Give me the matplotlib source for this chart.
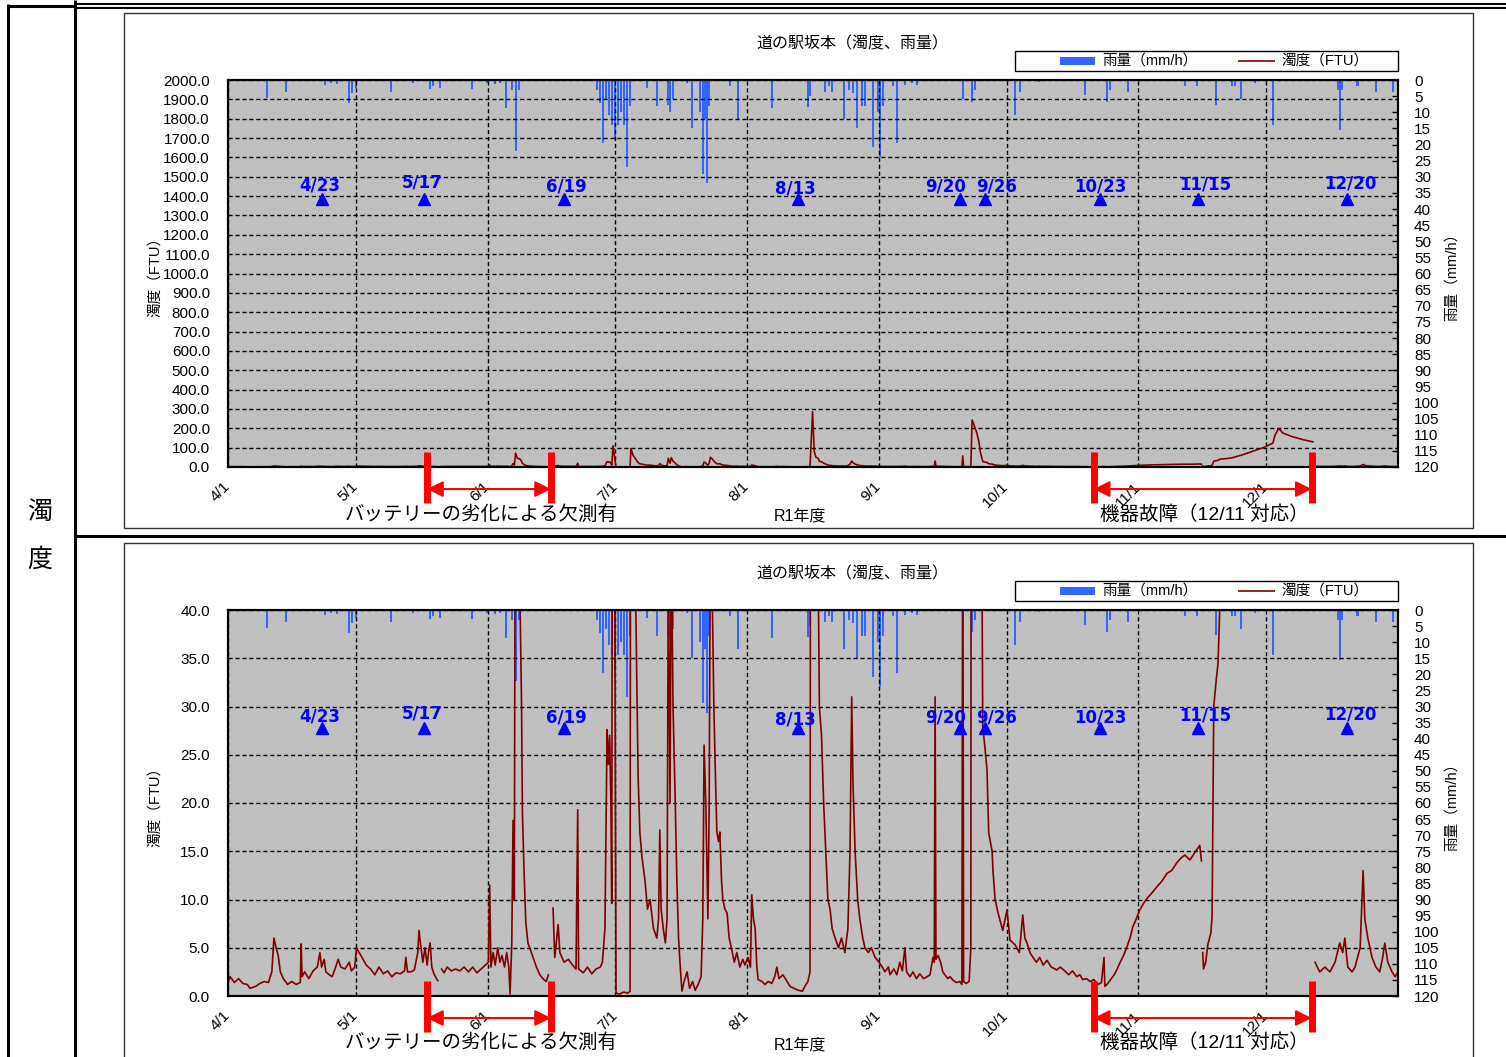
import numpy as np
import matplotlib
matplotlib.use("Agg")
import matplotlib.pyplot as plt
import matplotlib.transforms as mtransforms
from matplotlib.patches import Rectangle
from matplotlib.lines import Line2D

plt.rcParams['font.family'] = ['Liberation Sans', 'Noto Sans CJK JP']

# ---------------- data (day 0 = 4/1) ----------------
month_days = [0, 30, 61, 91, 122, 153, 183, 214, 244]
month_labels = ['4/1', '5/1', '6/1', '7/1', '8/1', '9/1', '10/1', '11/1', '12/1']

marker_days = [22, 46, 79, 134, 172, 178, 205, 228, 263]
marker_labels = ['4/23', '5/17', '6/19', '8/13', '9/20', '9/26', '10/23', '11/15', '12/20']

nan = float('nan')
turb_day = [
    0.0, 0.5, 1.5, 2.5, 3.5, 4.5, 5.2, 6.5, 7.5, 8.5,
    9.5, 10.3, 10.8, 11.3, 11.8, 12.3, 13.0, 14.0, 15.0, 16.0,
    17.0, 17.2, 17.4, 18.0, 19.0, 20.0, 21.0, 21.6, 22.0, 22.6,
    23.0, 23.8, 24.5, 25.3, 25.9, 26.5, 27.5, 28.5, 29.0, 29.8,
    30.2, 30.7, 31.5, 32.5, 33.5, 34.5, 35.5, 36.5, 37.5, 38.5,
    39.5, 40.5, 41.5, 41.8, 42.2, 43.0, 43.8, 44.6, 44.9, 45.3,
    45.8, 46.3, 46.8, 47.2, 47.5, 47.9, 48.4, 49.0, 49.3, 49.6,
    50.2, 50.8, 51.5, 52.5, 53.5, 54.5, 55.5, 56.5, 57.5, 58.5,
    59.5, 60.5, 61.2, 61.5, 61.8, 62.3, 62.8, 63.4, 63.9, 64.4,
    65.0, 65.5, 66.0, 66.3, 66.7, 67.0, 67.3, 67.6, 68.0, 68.6,
    69.0, 69.2, 69.6, 70.0, 70.5, 71.7, 72.5, 73.3, 74.0, 74.8,
    75.3, 75.6, 76.4, 76.8, 77.6, 78.0, 79.0, 80.0, 81.0, 81.8,
    82.2, 82.4, 83.5, 84.5, 85.5, 86.5, 87.5, 88.0, 88.6, 88.9,
    89.1, 89.4, 89.7, 90.0, 90.2, 90.5, 90.8, 91.2, 92.0, 93.0,
    94.0, 94.5, 94.7, 95.2, 95.7, 96.4, 96.8, 97.3, 98.0, 98.6,
    99.2, 100.0, 100.8, 101.2, 101.5, 101.8, 102.3, 102.8, 103.2, 103.5,
    103.9, 104.2, 104.6, 105.1, 105.5, 105.9, 106.3, 106.7, 107.2, 107.9,
    108.5, 109.2, 109.8, 110.5, 111.2, 111.6, 111.9, 112.3, 112.6, 112.8,
    113.1, 113.4, 113.8, 114.2, 114.5, 114.9, 115.3, 115.6, 116.0, 116.3,
    116.8, 117.3, 117.8, 118.3, 119.0, 119.6, 120.3, 121.0, 121.5, 122.2,
    122.8, 123.1, 123.5, 123.9, 124.3, 124.6, 125.5, 126.2, 127.0, 127.8,
    128.5, 129.0, 129.5, 130.4, 131.0, 132.1, 133.0, 134.0, 135.0, 135.6,
    136.3, 136.8, 137.4, 137.8, 138.2, 138.7, 139.0, 139.5, 140.0, 140.5,
    141.0, 141.5, 142.0, 142.7, 143.5, 144.2, 145.0, 145.7, 146.2, 146.6,
    146.9, 147.4, 148.0, 148.5, 149.2, 149.7, 150.5, 151.2, 152.1, 153.0,
    153.8, 154.4, 155.2, 155.6, 156.5, 157.2, 157.9, 158.5, 159.1, 159.5,
    160.3, 161.0, 161.8, 162.6, 163.5, 164.3, 165.0, 165.7, 166.0, 166.2,
    166.4, 166.9, 167.5, 168.0, 168.5, 169.2, 169.7, 170.5, 171.2, 172.0,
    172.5, 172.7, 172.9, 173.5, 174.2, 174.6, 174.9, 175.3, 175.6, 176.0,
    176.5, 176.8, 177.2, 177.4, 177.9, 178.4, 178.8, 179.6, 179.8, 180.3,
    181.0, 182.1, 183.1, 183.8, 185.0, 186.0, 186.8, 187.3, 187.8, 188.5,
    189.2, 190.0, 190.8, 191.6, 192.5, 193.5, 194.8, 195.6, 196.7, 197.6,
    198.5, 199.5, 200.2, 200.9, 201.8, 202.6, 203.5, 204.5, 205.3, 205.9,
    206.1, 206.6, 207.3, 208.3, 209.0, 209.6, 210.5, 211.3, 212.0, 212.7,
    213.5, 214.3, 215.2, 216.0, 217.2, 218.3, 219.5, 220.7, 221.8, 223.0,
    224.0, 224.9, 226.1, 227.3, 228.4, 228.8, 228.95, 229.1, 229.3, 229.8,
    230.3, 231.0, 231.3, 231.5, 231.7, 232.2, 232.7, 233.1, 235.7, 238.3,
    241.1, 243.7, 245.6, 246.1, 247.0, 247.9, 250.1, 252.9, 255.0, 255.1,
    255.5, 256.6, 257.8, 259.0, 260.2, 261.3, 262.0, 262.5, 263.2, 264.2,
    264.9, 266.1, 266.8, 267.2, 267.9, 268.9, 269.8, 270.7, 271.4, 271.9,
    272.6, 273.6, 274.3, 275.0,
]
turb_ftu = [
    1.5, 2.0, 1.4, 1.8, 1.3, 1.2, 0.8, 1.0, 1.3, 1.5,
    1.4, 2.5, 6.0, 5.0, 4.2, 2.5, 1.8, 1.2, 1.5, 1.2,
    1.4, 5.4, 2.0, 2.5, 1.8, 2.6, 3.0, 4.5, 3.0, 3.8,
    2.5, 2.2, 2.0, 3.0, 3.8, 3.0, 2.8, 3.5, 2.6, 3.0,
    5.0, 4.6, 4.0, 3.2, 2.8, 2.2, 3.0, 2.3, 2.6, 2.0,
    2.4, 2.3, 2.6, 4.0, 2.5, 2.5, 2.7, 4.5, 6.8, 5.2,
    3.5, 5.0, 3.2, 4.8, 5.5, 3.0, 2.3, 1.8, 1.6, nan,
    2.8, 2.4, 3.0, 2.6, 2.8, 2.6, 3.0, 2.5, 3.0, 2.4,
    2.8, 3.2, 3.5, 11.5, 3.0, 4.5, 3.2, 5.0, 3.5, 4.2,
    3.0, 4.5, 3.0, 0.2, 5.5, 18.2, 10.0, 72.0, 45.0, 42.0,
    30.0, 19.0, 12.7, 7.6, 5.5, 4.0, 3.0, 2.2, 1.8, 1.5,
    2.2, nan, 9.1, 4.0, 7.4, 4.5, 3.5, 3.8, 3.2, 2.8,
    19.3, 2.8, 2.4, 3.0, 2.3, 2.8, 3.0, 3.5, 7.0, 20.0,
    27.6, 24.0, 27.0, 20.0, 9.6, 110.0, 60.0, 0.3, 0.2, 0.4,
    0.3, 0.5, 95.0, 60.0, 45.0, 22.7, 17.0, 14.4, 12.0, 9.0,
    10.0, 7.0, 6.0, 8.0, 17.2, 9.0, 7.0, 5.5, 8.0, 45.0,
    20.0, 48.0, 30.0, 20.6, 12.0, 6.0, 3.0, 0.5, 1.5, 2.5,
    0.8, 1.5, 0.6, 1.2, 2.0, 8.0, 26.0, 20.0, 13.0, 8.0,
    20.0, 50.0, 42.0, 30.0, 24.0, 17.0, 16.0, 17.0, 12.0, 10.0,
    9.0, 8.6, 6.0, 5.0, 3.5, 4.5, 3.0, 3.8, 3.2, 4.0,
    3.0, 10.5, 8.0, 7.0, 3.0, 1.7, 1.5, 1.2, 1.5, 1.3,
    2.0, 3.0, 1.8, 2.2, 1.8, 1.0, 0.8, 0.6, 0.5, 1.0,
    1.5, 2.5, 285.0, 80.0, 50.0, 45.0, 30.0, 27.0, 20.0, 15.0,
    10.0, 9.0, 7.0, 6.0, 5.0, 6.0, 4.5, 7.0, 15.0, 31.0,
    22.0, 15.0, 10.0, 8.0, 6.0, 5.0, 4.5, 5.0, 4.0, 3.5,
    3.0, 2.5, 3.0, 2.2, 2.8, 2.2, 3.5, 2.6, 5.0, 2.5,
    2.0, 2.5, 1.8, 2.3, 1.8, 2.0, 2.2, 4.0, 3.5, 31.0,
    3.8, 4.2, 3.5, 2.5, 2.2, 1.8, 2.0, 1.6, 1.4, 1.5,
    1.2, 57.0, 1.5, 1.3, 1.5, 5.0, 243.0, 220.0, 200.0, 176.0,
    130.0, 80.0, 45.0, 28.0, 25.8, 23.4, 16.9, 15.0, 13.0, 10.0,
    8.6, 6.8, 8.9, 5.8, 5.3, 4.5, 8.4, 6.0, 5.5, 4.5,
    4.0, 3.5, 4.0, 3.2, 3.7, 3.0, 2.7, 3.0, 2.6, 2.2,
    2.6, 2.0, 2.2, 1.7, 1.8, 1.5, 1.7, 1.2, 1.4, 4.0,
    1.0, 1.2, 1.6, 2.2, 2.8, 3.4, 4.2, 5.1, 6.0, 7.2,
    8.0, 8.9, 9.6, 10.1, 10.7, 11.3, 11.9, 12.7, 13.0, 13.8,
    14.3, 14.6, 14.1, 14.9, 15.6, 14.0, nan, 4.5, 2.8, 3.5,
    5.3, 6.5, 8.2, 19.6, 30.0, 32.4, 34.5, 40.0, 46.0, 62.0,
    83.0, 103.0, 124.0, 165.0, 200.0, 176.0, 157.0, 140.0, 130.0, nan,
    3.5, 2.5, 3.0, 2.5, 3.5, 5.5, 4.5, 6.0, 3.0, 2.5,
    3.0, 5.0, 13.0, 8.0, 6.0, 4.0, 3.0, 2.5, 4.0, 5.5,
    3.5, 2.5, 2.0, 2.5,
]

rain_day = [
    9.1, 13.6, 22.8, 24.2, 25.6, 28.4, 29.1, 30.1, 38.3, 43.5,
    47.5, 48.2, 49.8, 57.3, 60.9, 62.7, 63.9, 65.3, 66.7, 67.7,
    68.4, 86.7, 87.4, 88.1, 88.8, 89.5, 90.2, 90.9, 91.7, 92.4,
    93.1, 93.8, 94.5, 98.5, 100.8, 103.4, 103.9, 104.6, 107.9, 109.0,
    110.9, 111.6, 112.1, 112.6, 113.0, 118.0, 119.9, 127.8, 136.3, 136.8,
    140.3, 141.3, 142.0, 144.8, 145.9, 146.9, 147.8, 149.0, 149.7, 151.6,
    152.8, 153.2, 153.9, 156.3, 157.2, 159.1, 160.8, 161.9, 172.7, 174.9,
    175.6, 185.0, 186.1, 190.6, 201.4, 206.6, 207.3, 211.5, 224.9, 227.7,
    232.2, 236.0, 236.7, 238.1, 241.4, 245.6, 260.9, 261.3, 261.8, 265.5,
    269.8, 273.8,
]
rain_mm = [
    5.6, 3.7, 1.5, 1.0, 1.2, 7.0, 4.0, 2.5, 3.7, 1.0,
    2.8, 2.0, 2.5, 2.8, 0.8, 1.2, 1.0, 8.6, 3.0, 22.0,
    3.0, 3.0, 7.0, 19.5, 6.0, 11.0, 14.0, 18.6, 14.0, 10.0,
    14.0, 27.0, 8.0, 2.5, 8.0, 7.8, 10.0, 6.0, 1.0, 15.0,
    10.0, 29.0, 12.0, 32.0, 8.0, 2.0, 12.0, 8.7, 8.3, 5.0,
    3.7, 2.0, 3.7, 12.0, 3.0, 4.0, 15.0, 8.0, 8.0, 20.7,
    10.0, 24.0, 8.0, 2.0, 19.5, 1.5, 1.0, 1.5, 6.0, 6.7,
    3.0, 11.0, 3.8, 0.5, 4.7, 6.8, 3.0, 3.8, 2.0, 2.0,
    7.8, 2.0, 2.0, 6.0, 1.0, 14.0, 3.0, 15.5, 3.0, 2.0,
    3.8, 3.8,
]

missing_battery = [46.8, 75.9]      # バッテリー劣化による欠測
missing_device = [203.5, 254.7]     # 機器故障（12/11 対応）

# label nudges (pixels) for the survey-date labels, as placed in the reference
label_dx = [-2, -2, 2, -3, -14, 11, 0, 7, 3]
label_dy = [0, -3, 1, 3, 1, 1, 1, -1, -2]

# ---------------- figure ----------------
W, H = 1506, 1057
fig = plt.figure(figsize=(W / 100, H / 100), dpi=100)


def fx(px):
    return px / W


def fy(py):
    return 1 - py / H


def fig_line(xs, ys, lw, color='black'):
    fig.add_artist(Line2D([fx(x) for x in xs], [fy(y) for y in ys], color=color, lw=lw,
                          transform=fig.transFigure, solid_capstyle='butt'))


# table frame
fig_line([8, 8], [4, 1057], 2.2)
fig_line([75, 75], [0, 1057], 2.2)
fig_line([8, 75], [5.5, 5.5], 2.2)
fig_line([75, 1506], [3.5, 3.5], 1.5)
fig_line([75, 1506], [7.5, 7.5], 1.5)
fig_line([75, 1506], [536, 536], 2.2)
fig.text(fx(40), fy(512), '濁', fontsize=18, ha='center', va='center', family=['Noto Sans CJK JP'])
fig.text(fx(40), fy(560), '度', fontsize=18, ha='center', va='center', family=['Noto Sans CJK JP'])

RAIN_C = '#3366FF'
TURB_C = '#800000'


def panel(top, bot, box_top, box_bot, ymax, ystep, tri_val, lab_val):
    fig.add_artist(Rectangle((fx(124), fy(box_bot)), fx(1473) - fx(124), (box_bot - box_top) / H,
                             fill=False, edgecolor='#333333', lw=1, transform=fig.transFigure))
    ax = fig.add_axes([fx(228), fy(bot), fx(1398) - fx(228), (bot - top) / H])
    ax2 = ax.twinx()
    ax2.set_zorder(1)
    ax.set_zorder(2)
    ax.patch.set_visible(False)
    ax2.patch.set_visible(True)
    ax2.patch.set_facecolor('#C0C0C0')

    # rain
    ax2.bar(rain_day, rain_mm, width=0.55, color=RAIN_C, linewidth=0)
    ax2.set_ylim(120, 0)
    ax2.set_yticks(np.arange(0, 121, 5))
    ax2.set_yticklabels([str(v) for v in range(0, 121, 5)])
    ax2.tick_params(axis='y', direction='in', length=4, width=1, pad=11.5, labelsize=11)

    # turbidity
    ax.plot(turb_day, turb_ftu, color=TURB_C, lw=1.2)
    ax.set_xlim(0, 275)
    ax.set_ylim(0, ymax)
    yt = np.arange(0, ymax + ystep / 2, ystep)
    ax.set_yticks(yt)
    ax.set_yticklabels([f'{v:.1f}' for v in yt])
    ax.tick_params(axis='y', length=0, pad=13, labelsize=11)
    ax.set_xticks(month_days)
    ax.set_xticklabels(month_labels, rotation=45, ha='right', va='top', rotation_mode='anchor')
    ax.tick_params(axis='x', length=0, pad=9, labelsize=11)
    shift = mtransforms.ScaledTranslation(-5 / 100, 0, fig.dpi_scale_trans)
    for lab in ax.get_xticklabels():
        lab.set_transform(lab.get_transform() + shift)
    ax.set_axisbelow(True)
    ax.grid(True, color='black', linestyle=(0, (3, 2)), lw=1.0)
    for a in (ax, ax2):
        for s in a.spines.values():
            s.set_linewidth(1.5)
            s.set_color('black')

    # survey markers
    ax.plot(marker_days, [tri_val] * len(marker_days), '^', color='#0000FF', ms=8, clip_on=False)
    for d, lab, dx, dy in zip(marker_days, marker_labels, label_dx, label_dy):
        ax.annotate(lab, xy=(d, lab_val), xytext=(dx * 0.72, -dy * 0.72), textcoords='offset points',
                    color='#0000FF', fontweight='bold', family=['DejaVu Sans'],
                    fontsize=12, ha='center', va='center')

    # missing-period annotations
    trans = mtransforms.blended_transform_factory(ax.transData, ax.transAxes)
    for (d1, d2), txt, tx in ((missing_battery, 'バッテリーの劣化による欠測有', 59.6),
                              (missing_device, '機器故障（12/11 対応）', 229.6)):
        for d in (d1, d2):
            ax.plot([d, d], [0.04, -0.093], color='red', lw=5, transform=trans, clip_on=False,
                    solid_capstyle='butt', zorder=5)
        ax.annotate('', xy=(d2, -0.057), xycoords=trans, xytext=(d1, -0.057), textcoords=trans,
                    arrowprops=dict(arrowstyle='<|-|>', color='red', lw=1.5, mutation_scale=24,
                                    shrinkA=0, shrinkB=0), annotation_clip=False, zorder=5)
        ax.text(tx, -0.122, txt, transform=trans, ha='center', va='center', fontsize=14)

    ax.text(0.489, -0.127, 'R1年度', transform=ax.transAxes, ha='center', va='center', fontsize=11.5)

    # axis titles
    fig.text(fx(155), fy((top + bot) / 2), '濁度（FTU）', rotation=90, ha='center', va='center', fontsize=10.5)
    fig.text(fx(1452), fy((top + bot) / 2), '雨量（mm/h）', rotation=90, ha='center', va='center', fontsize=10.5)

    # title
    fig.text(fx(852), fy(box_top + 31), '道の駅坂本（濁度、雨量）', ha='center', va='center', fontsize=11.5)

    # legend
    ly = box_top + 48
    fig.add_artist(Rectangle((fx(1015), fy(box_top + 58)), fx(1398) - fx(1015), 20 / H,
                             fill=False, edgecolor='black', lw=1, transform=fig.transFigure))
    fig.add_artist(Rectangle((fx(1060), fy(ly + 4)), fx(1095) - fx(1060), 8 / H,
                             facecolor=RAIN_C, edgecolor='none', transform=fig.transFigure))
    fig.text(fx(1102), fy(ly), '雨量（mm/h）', ha='left', va='center', fontsize=10.5)
    fig_line([1238, 1275], [ly, ly], 1.2, color=TURB_C)
    fig.text(fx(1281), fy(ly), '濁度（FTU）', ha='left', va='center', fontsize=10.5)
    return ax


panel(80, 467, 13, 528, 2000, 100, 1385, 1457)
panel(610, 996, 543, 1060, 40, 5, 27.8, 29.0)

fig.savefig('out.png', dpi=100)
